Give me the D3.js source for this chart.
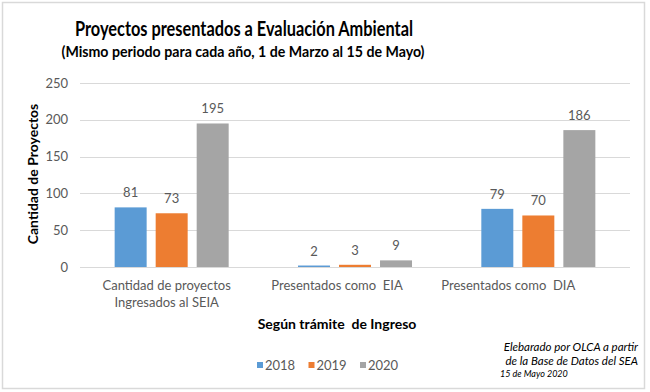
<!DOCTYPE html>
<html>
<head>
<meta charset="utf-8">
<script src="https://cdn.jsdelivr.net/npm/d3@7"></script>
<style>
  body { margin: 0; background: #fff; }
  svg { display: block; font-family: Lato, "Open Sans", sans-serif; }
</style>
</head>
<body>
<svg id="chart" width="650" height="392"></svg>
<script>
// data
var categories = ['Cantidad de proyectos|Ingresados al SEIA', 'Presentados como  EIA', 'Presentados como  DIA'];
var years = ['2018', '2019', '2020'];
var values2018 = [81, 2, 79];
var values2019 = [73, 3, 70];
var values2020 = [195, 9, 186];
var yTicks = [0, 50, 100, 150, 200, 250];

var colors = ['#5b9bd5', '#ed7d31', '#a5a5a5'];
var series = [values2018, values2019, values2020];

var svg = d3.select('#chart');

svg.append('rect')
    .attr('width', 650).attr('height', 392)
    .attr('fill', '#fff');

// outer frame
svg.append('rect')
    .attr('x', 2.5).attr('y', 2.5)
    .attr('width', 642).attr('height', 386)
    .attr('fill', 'none')
    .attr('stroke', '#d9d9d9')
    .attr('stroke-width', 1.5);

var plot = {left: 80, right: 630, top: 83, bottom: 267};

var x0 = d3.scaleBand()
    .domain(categories)
    .range([plot.left, plot.right]);

var x1 = d3.scaleBand()
    .domain(years)
    .range([0, x0.bandwidth()])
    .paddingInner(0.22)
    .paddingOuter(0.845);

var y = d3.scaleLinear()
    .domain([0, 250])
    .range([plot.bottom, plot.top]);

// gridlines
svg.append('g')
    .selectAll('line')
    .data(yTicks)
    .join('line')
    .attr('x1', plot.left).attr('x2', plot.right)
    .attr('y1', function (d) { return Math.round(y(d)) + 0.5; })
    .attr('y2', function (d) { return Math.round(y(d)) + 0.5; })
    .attr('stroke', '#d9d9d9')
    .attr('stroke-width', 1);

// y axis tick labels
var yAxis = svg.append('g')
    .attr('transform', 'translate(' + (plot.left - 12) + ',0)')
    .call(d3.axisLeft(y).tickValues(yTicks).tickSize(0).tickPadding(0));
yAxis.select('.domain').remove();
yAxis.selectAll('text')
    .attr('fill', '#595959')
    .style('font-family', 'Lato, sans-serif')
    .style('font-size', '13px');

// bars
var groups = svg.append('g')
    .selectAll('g')
    .data(categories)
    .join('g')
    .attr('transform', function (d) { return 'translate(' + x0(d) + ',0)'; });

groups.selectAll('rect')
    .data(function (d, i) {
        return years.map(function (yr, j) { return {year: yr, value: series[j][i], color: colors[j]}; });
    })
    .join('rect')
    .attr('x', function (d) { return x1(d.year); })
    .attr('width', x1.bandwidth())
    .attr('y', function (d) { return y(d.value); })
    .attr('height', function (d) { return y(0) - y(d.value); })
    .attr('fill', function (d) { return d.color; });

groups.selectAll('text')
    .data(function (d, i) {
        return years.map(function (yr, j) { return {year: yr, value: series[j][i]}; });
    })
    .join('text')
    .attr('x', function (d) { return x1(d.year) + x1.bandwidth() / 2; })
    .attr('y', function (d) { return y(d.value) - 10; })
    .attr('text-anchor', 'middle')
    .attr('fill', '#595959')
    .style('font-size', '13px')
    .text(function (d) { return d.value; });

// category labels (Excel shifted them a bit left of the band centre)
var labelShift = [-5, -18, -30];
var catLabels = svg.append('g')
    .selectAll('text')
    .data(categories)
    .join('text')
    .attr('x', function (d, i) { return x0(d) + x0.bandwidth() / 2 + labelShift[i]; })
    .attr('y', 290)
    .attr('text-anchor', 'middle')
    .attr('fill', '#595959')
    .style('font-size', '13px');
catLabels.selectAll('tspan')
    .data(function (d) { return d.split('|'); })
    .join('tspan')
    .attr('x', function () { return d3.select(this.parentNode).attr('x'); })
    .attr('dy', function (d, i) { return i === 0 ? 0 : 17; })
    .style('white-space', 'pre')
    .text(function (d) { return d; });

// titles
svg.append('text')
    .attr('x', 244).attr('y', 36)
    .attr('text-anchor', 'middle')
    .attr('fill', '#000')
    .style('font-size', '20px')
    .style('font-weight', 'bold')
    .attr('textLength', 338)
    .attr('lengthAdjust', 'spacingAndGlyphs')
    .text('Proyectos presentados a Evaluación Ambiental');

svg.append('text')
    .attr('x', 243).attr('y', 57)
    .attr('text-anchor', 'middle')
    .attr('fill', '#000')
    .style('font-size', '16px')
    .style('font-weight', 'bold')
    .attr('textLength', 363)
    .attr('lengthAdjust', 'spacingAndGlyphs')
    .text('(Mismo periodo para cada año, 1 de Marzo al 15 de Mayo)');

// axis titles
svg.append('text')
    .attr('transform', 'translate(38,174) rotate(-90)')
    .attr('text-anchor', 'middle')
    .attr('fill', '#000')
    .style('font-size', '14px')
    .style('font-weight', 'bold')
    .text('Cantidad de Proyectos');

svg.append('text')
    .attr('x', 337).attr('y', 329)
    .attr('text-anchor', 'middle')
    .attr('fill', '#000')
    .style('font-size', '14px')
    .style('font-weight', 'bold')
    .style('white-space', 'pre')
    .text('Según trámite  de Ingreso');

// legend
var legend = svg.append('g')
    .selectAll('g')
    .data(years)
    .join('g')
    .attr('transform', function (d, i) { return 'translate(' + (257 + i * 51.5) + ',365)'; });
legend.append('rect')
    .attr('x', 0).attr('y', -3)
    .attr('width', 6).attr('height', 6)
    .attr('fill', function (d, i) { return colors[i]; });
legend.append('text')
    .attr('x', 8).attr('y', 0)
    .attr('dy', '0.35em')
    .attr('fill', '#595959')
    .style('font-size', '13px')
    .text(function (d) { return d; });

// source note
var note = svg.append('g').attr('fill', '#000').style('font-style', 'italic');
note.append('text')
    .attr('x', 638).attr('y', 351)
    .attr('text-anchor', 'end')
    .style('font-size', '11.5px')
    .text('Elebarado por OLCA a partir');
note.append('text')
    .attr('x', 638).attr('y', 365)
    .attr('text-anchor', 'end')
    .style('font-size', '11.5px')
    .text('de la Base de Datos del SEA');
note.append('text')
    .attr('x', 500).attr('y', 377)
    .style('font-size', '9px')
    .text('15 de Mayo 2020');
</script>
</body>
</html>
